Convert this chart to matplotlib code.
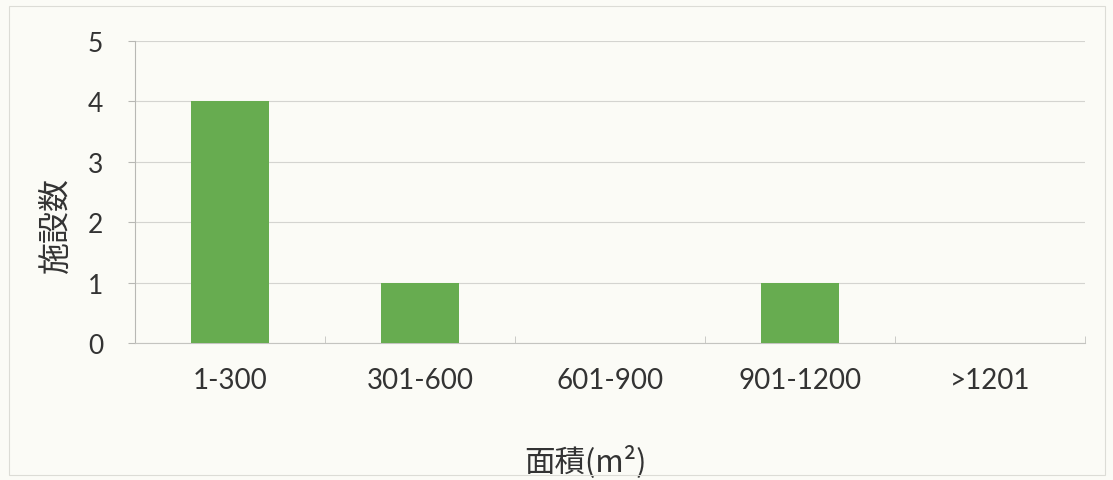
import matplotlib
matplotlib.use('Agg')
import matplotlib.pyplot as plt
from matplotlib.patches import Rectangle

plt.rcParams['font.family'] = ['Lato', 'Noto Sans CJK JP', 'DejaVu Sans']

categories = ['1-300', '301-600', '601-900', '901-1200', '>1201']
counts = [4, 1, 0, 1, 0]

bg = '#fbfbf6'
fig = plt.figure(figsize=(11.13, 4.81), dpi=100, facecolor=bg)
ax = fig.add_axes([0.1213, 0.2848, 0.8537, 0.6279], facecolor=bg)

# faint outer border of the chart area
fig.patches.append(Rectangle((0.008, 0.01), 0.985, 0.975, transform=fig.transFigure,
                             fill=False, edgecolor='#dcdcd6', linewidth=0.8))

x = list(range(len(categories)))
ax.bar(x, counts, width=0.41, color='#67ac50', zorder=3)

ax.set_xlim(-0.5, len(categories) - 0.5)
ax.set_ylim(0, 5)
ax.set_yticks(range(6))
ax.yaxis.grid(True, color='#d4d4d0', linewidth=0.8)
ax.set_axisbelow(True)

for s in ['top', 'right']:
    ax.spines[s].set_visible(False)
ax.spines['left'].set_color('#b8b8b4')
ax.spines['bottom'].set_color('#c4c4c0')

ax.set_xticks(x)
ax.set_xticklabels(categories, fontsize=20, color='#333333')
ax.tick_params(axis='x', length=0, pad=17)
ax.set_xticks([i + 0.5 for i in range(-1, len(categories))], minor=True)
ax.tick_params(axis='x', which='minor', length=5, direction='in', color='#c4c4c0')
ax.tick_params(axis='y', labelsize=19, colors='#333333', length=5, color='#b8b8b4', pad=18)

ax.set_ylabel('施設数', fontsize=23, color='#333333',
              family=['Noto Sans CJK JP', 'DejaVu Sans'])
ax.yaxis.set_label_coords(-0.067, 0.394)

ax.set_xlabel('面積(m²)', fontsize=22, color='#333333',
              family=['Noto Sans CJK JP', 'DejaVu Sans'])
ax.xaxis.set_label_coords(0.4737, -0.335)

fig.savefig('out.png', dpi=100, facecolor=bg)
